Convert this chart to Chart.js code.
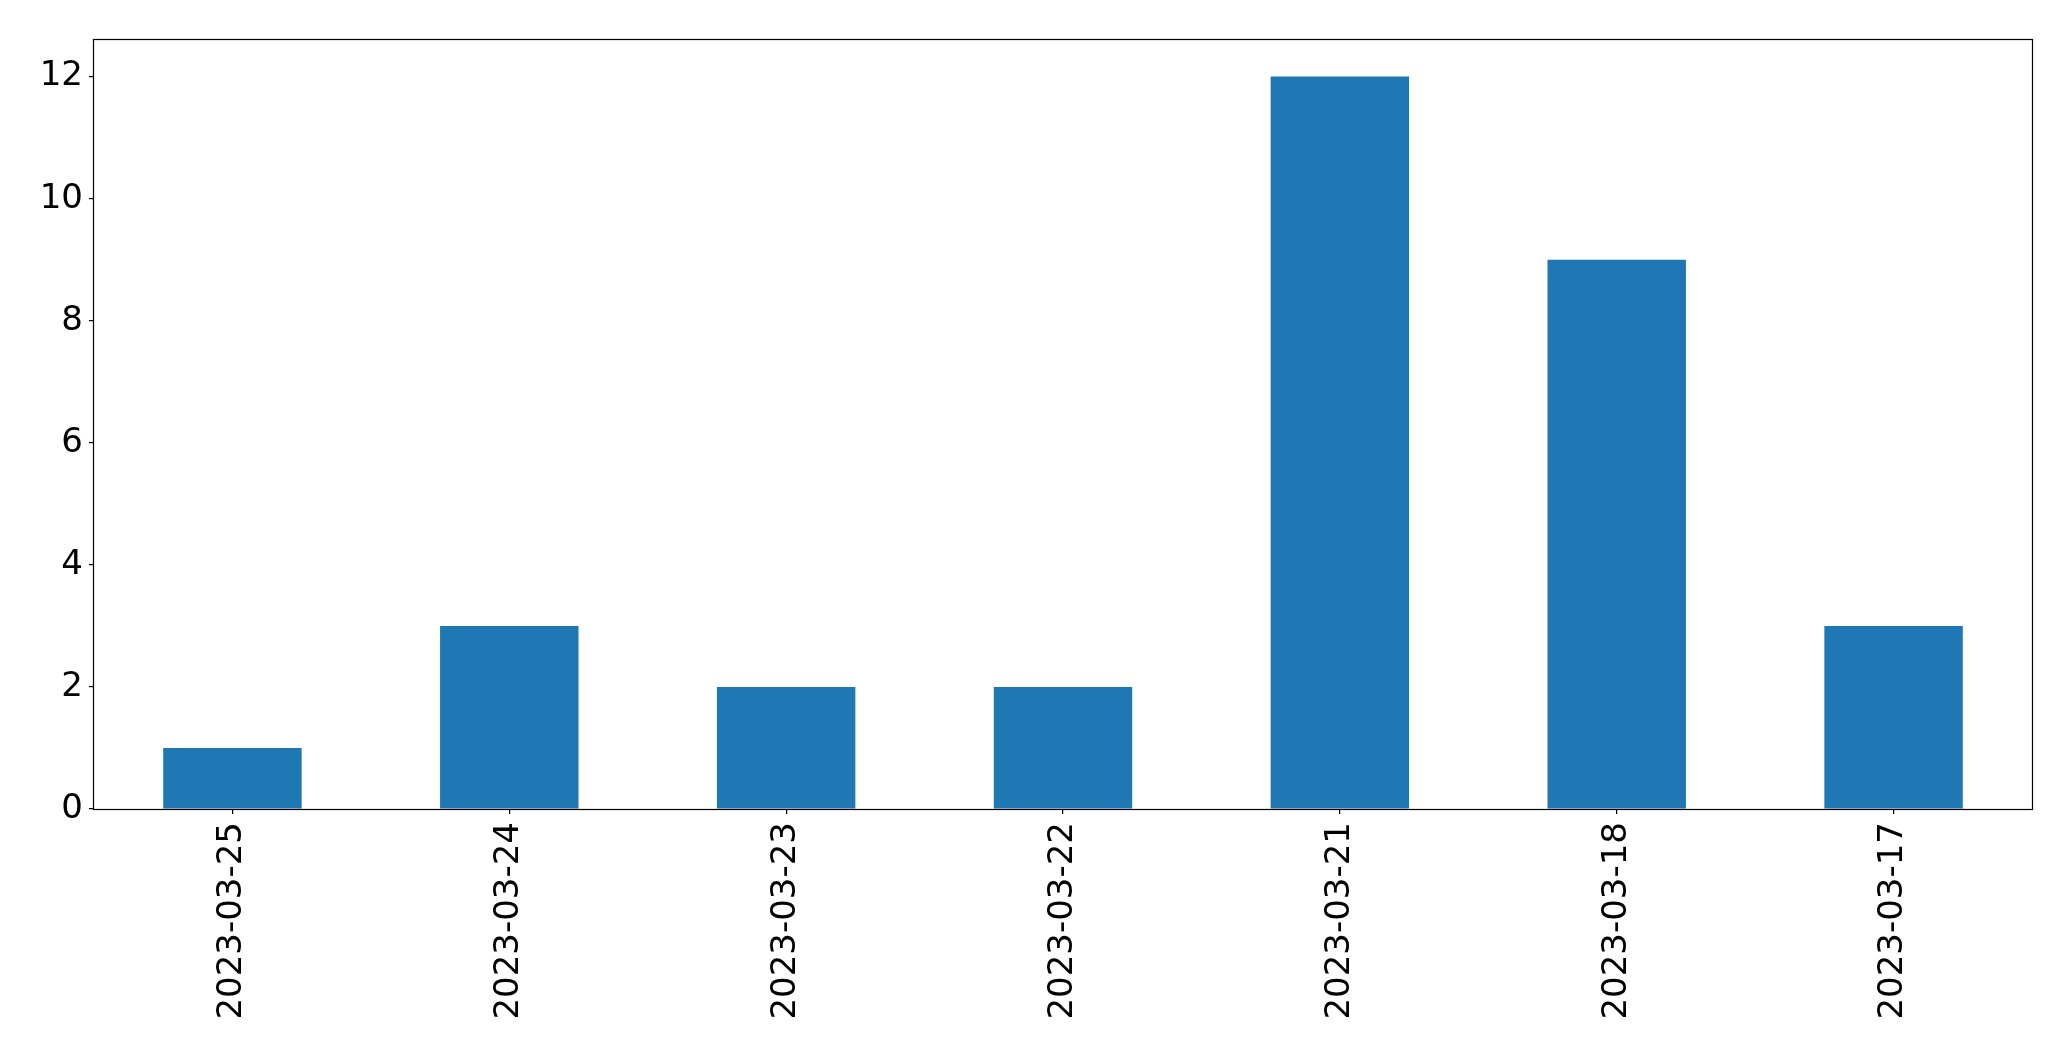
<!DOCTYPE html>
<html>
<head>
<meta charset="utf-8">
<script src="https://cdn.jsdelivr.net/npm/chart.js@4/dist/chart.umd.min.js"></script>
<style>
    html, body { margin: 0; padding: 0; background: #fff; }
    #wrap { width: 2071px; height: 1061px; }
</style>
</head>
<body>
<div id="wrap"><canvas id="barChart" width="2071" height="1061"></canvas></div>
<script>
// Data
const dates = ['2023-03-25', '2023-03-24', '2023-03-23', '2023-03-22', '2023-03-21', '2023-03-18', '2023-03-17'];
const counts = [1, 3, 2, 2, 12, 9, 3];
const yTicks = [0, 2, 4, 6, 8, 10, 12];

// Black frame round the plot area, snapped to whole pixels
const frame = {
    id: 'frame',
    afterDraw(chart) {
        const { ctx, chartArea: a } = chart;
        const l = Math.round(a.left) - 0.5, t = Math.round(a.top) - 0.5;
        const r = Math.round(a.right) + 0.5, b = Math.round(a.bottom) + 0.5;
        ctx.save();
        ctx.strokeStyle = '#000';
        ctx.lineWidth = 1.2;
        ctx.strokeRect(l, t, r - l, b - t);
        ctx.restore();
    }
};

const font = { family: 'DejaVu Sans', size: 34 };

new Chart(document.getElementById('barChart').getContext('2d'), {
    type: 'bar',
    data: {
        labels: dates,
        datasets: [{
            data: counts,
            backgroundColor: '#1f77b4',
            categoryPercentage: 1,
            barPercentage: 0.5
        }]
    },
    options: {
        responsive: false,
        animation: false,
        layout: { padding: { top: 40, right: 39, left: 0, bottom: 0 } },
        plugins: { legend: { display: false }, tooltip: { enabled: false } },
        scales: {
            x: {
                offset: true,
                grid: { offset: false, drawOnChartArea: false, tickLength: 5, tickColor: '#000', lineWidth: 1.2 },
                border: { display: false },
                ticks: { color: '#000', font, minRotation: 90, maxRotation: 90, padding: 8, autoSkip: false },
                afterFit: s => { s.height = 1061 - 809; }
            },
            y: {
                min: 0,
                max: 12.6,
                afterBuildTicks: s => { s.ticks = yTicks.map(v => ({ value: v })); },
                grid: { drawOnChartArea: false, tickLength: 5, tickColor: '#000', lineWidth: 1.2 },
                border: { display: false },
                ticks: { color: '#000', font, padding: 6 },
                afterFit: s => { s.width = 94; }
            }
        }
    },
    plugins: [frame]
});
</script>
</body>
</html>
